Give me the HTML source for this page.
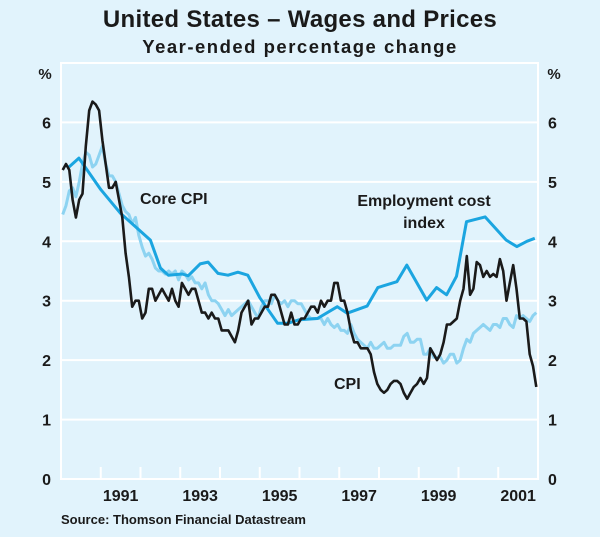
<!DOCTYPE html>
<html><head><meta charset="utf-8"><style>
html,body{margin:0;padding:0;background:#e1f3fc;}
svg{display:block;font-family:"Liberation Sans",Arial,sans-serif;}
</style></head><body>
<svg id="chart" width="600" height="537" viewBox="0 0 600 537">
<rect x="0" y="0" width="600" height="537" fill="#e1f3fc"/>
<text x="300" y="27" text-anchor="middle" font-size="24" font-weight="bold" letter-spacing="0.3" fill="#1a1a1a">United States – Wages and Prices</text>
<text x="300" y="53" text-anchor="middle" font-size="18.5" font-weight="bold" letter-spacing="1.5" fill="#1a1a1a">Year-ended percentage change</text>
<text x="45" y="79" text-anchor="middle" font-size="15" font-weight="bold" fill="#1a1a1a">%</text>
<text x="554" y="79" text-anchor="middle" font-size="15" font-weight="bold" fill="#1a1a1a">%</text>
<g id="grid"></g>
<g id="series"></g>
<text x="140" y="204" font-size="16" font-weight="bold" fill="#1a1a1a">Core CPI</text>
<text x="424" y="206" text-anchor="middle" font-size="16" font-weight="bold" fill="#1a1a1a">Employment cost</text>
<text x="424" y="228" text-anchor="middle" font-size="16" font-weight="bold" fill="#1a1a1a">index</text>
<text x="334" y="389" font-size="16" font-weight="bold" fill="#1a1a1a">CPI</text>
<text x="61" y="524" font-size="13" font-weight="bold" fill="#1a1a1a">Source: Thomson Financial Datastream</text>
</svg>
<script>
const yTicks=[0,1,2,3,4,5,6];
const yearLabels=[1991,1993,1995,1997,1999,2001];
const cpi=[5.2,5.3,5.2,4.7,4.4,4.7,4.8,5.6,6.2,6.35,6.3,6.2,
5.7,5.3,4.9,4.9,5.0,4.7,4.4,3.8,3.4,2.9,3.0,3.0,
2.7,2.8,3.2,3.2,3.0,3.1,3.2,3.1,3.0,3.2,3.0,2.9,
3.3,3.2,3.1,3.2,3.2,3.0,2.8,2.8,2.7,2.8,2.7,2.7,
2.5,2.5,2.5,2.4,2.3,2.5,2.8,2.9,3.0,2.6,2.7,2.7,
2.8,2.9,2.9,3.1,3.1,3.0,2.8,2.6,2.6,2.8,2.6,2.6,
2.7,2.7,2.8,2.9,2.9,2.8,3.0,2.9,3.0,3.0,3.3,3.3,
3.0,3.0,2.8,2.5,2.3,2.3,2.2,2.2,2.2,2.1,1.8,1.6,
1.5,1.45,1.5,1.6,1.65,1.65,1.6,1.45,1.35,1.45,1.55,1.6,
1.7,1.6,1.7,2.2,2.1,2.0,2.1,2.3,2.6,2.6,2.65,2.7,
3.0,3.2,3.75,3.1,3.2,3.65,3.6,3.4,3.5,3.4,3.45,3.4,
3.7,3.5,3.0,3.3,3.6,3.2,2.7,2.7,2.65,2.1,1.9,1.55];
const core=[4.45,4.6,4.85,4.9,4.75,5.0,5.3,5.5,5.45,5.25,5.3,5.45,
5.6,5.3,5.1,5.1,5.0,4.8,4.6,4.5,4.45,4.3,4.4,4.1,
3.9,3.75,3.8,3.7,3.55,3.5,3.5,3.45,3.5,3.45,3.5,3.35,
3.5,3.45,3.35,3.4,3.3,3.3,3.2,3.3,3.1,3.0,3.0,2.95,
2.85,2.75,2.85,2.75,2.8,2.85,2.9,2.95,3.0,2.9,2.8,2.7,
2.9,3.0,3.0,2.95,3.1,3.0,2.95,3.0,2.9,3.0,3.0,2.95,
2.95,2.85,2.75,2.7,2.7,2.7,2.7,2.6,2.7,2.6,2.55,2.6,
2.5,2.5,2.45,2.6,2.45,2.35,2.3,2.25,2.2,2.3,2.2,2.2,
2.25,2.3,2.2,2.2,2.25,2.25,2.25,2.4,2.45,2.3,2.3,2.35,
2.35,2.1,2.1,2.2,2.05,2.05,2.05,1.95,2.0,2.1,2.1,1.95,
2.0,2.2,2.35,2.3,2.45,2.5,2.55,2.6,2.55,2.5,2.6,2.6,
2.55,2.7,2.7,2.6,2.55,2.75,2.7,2.75,2.7,2.65,2.75,2.8];
const eciDates=[1990.2,1990.45,1991.0,1991.5,1992.25,1992.5,1992.7,1993.05,1993.2,1993.5,1993.7,1993.95,1994.2,1994.45,1994.7,1995.0,1995.45,1995.7,1996.0,1996.45,1996.95,1997.2,1997.7,1997.97,1998.45,1998.7,1999.2,1999.45,1999.7,1999.95,2000.2,2000.67,2001.2,2001.47,2001.72,2001.92];
const eciValues=[5.25,5.4,4.87,4.47,4.02,3.55,3.43,3.45,3.42,3.62,3.65,3.46,3.43,3.48,3.43,3.05,2.62,2.62,2.68,2.7,2.9,2.79,2.91,3.22,3.32,3.6,3.01,3.22,3.1,3.41,4.33,4.41,4.02,3.91,4.0,4.05];

const X0=61,X1=538,T0=1990,T1=2002,Y0=479,YT=63,V1=7;
const xs=t=>X0+(t-T0)*(X1-X0)/(T1-T0);
const ys=v=>Y0-v*(Y0-YT)/V1;
const NS='http://www.w3.org/2000/svg';
function mk(tag,attrs,parent){const e=document.createElementNS(NS,tag);for(const k in attrs)e.setAttribute(k,attrs[k]);parent.appendChild(e);return e;}
const grid=document.getElementById('grid');
const ser=document.getElementById('series');
let fr=mk('rect',{x:X0,y:YT,width:X1-X0,height:Y0-YT,fill:'none',stroke:'#fff','stroke-width':2},grid);


yTicks.forEach(v=>{
  if(v>0){const l=mk('line',{x1:X0,x2:X1,y1:ys(v),y2:ys(v),stroke:'#fff','stroke-width':2},grid);
  
  }
  const a=mk('text',{x:X0-10,y:ys(v)+6,'text-anchor':'end','font-size':16,'font-weight':'bold',fill:'#1a1a1a'},grid);a.textContent=v;
  
  
  const b=mk('text',{x:X1+10,y:ys(v)+6,'font-size':16,'font-weight':'bold',fill:'#1a1a1a'},grid);b.textContent=v;
  
  
});
for(let yr=T0+1;yr<T1;yr++){
  const t=mk('line',{x1:xs(yr),x2:xs(yr),y1:Y0,y2:Y0-12,stroke:'#fff','stroke-width':2},grid);
  
  
}
yearLabels.forEach(yr=>{
  const t=mk('text',{x:xs(yr+0.5),y:Y0+22,'text-anchor':'middle','font-size':16,'font-weight':'bold',fill:'#1a1a1a'},grid);t.textContent=yr;
  
  
});
function monthly(arr){return arr.map((v,i)=>[xs(T0+(i+0.5)/12),ys(v)]);}
function path(pts,color,w,name){
  const p=mk('polyline',{points:pts.map(p=>p[0].toFixed(1)+','+p[1].toFixed(1)).join(' '),fill:'none',stroke:color,'stroke-width':w,'stroke-linejoin':'round'},ser);
  
  
}
path(monthly(core),'#8dd3f1',3,'core-cpi-line');
path(eciDates.map((d,i)=>[xs(d),ys(eciValues[i])]),'#1ba5e0',3,'eci-line');
path(monthly(cpi),'#1a1a1a',2.6,'cpi-line');
</script>
</body></html>
